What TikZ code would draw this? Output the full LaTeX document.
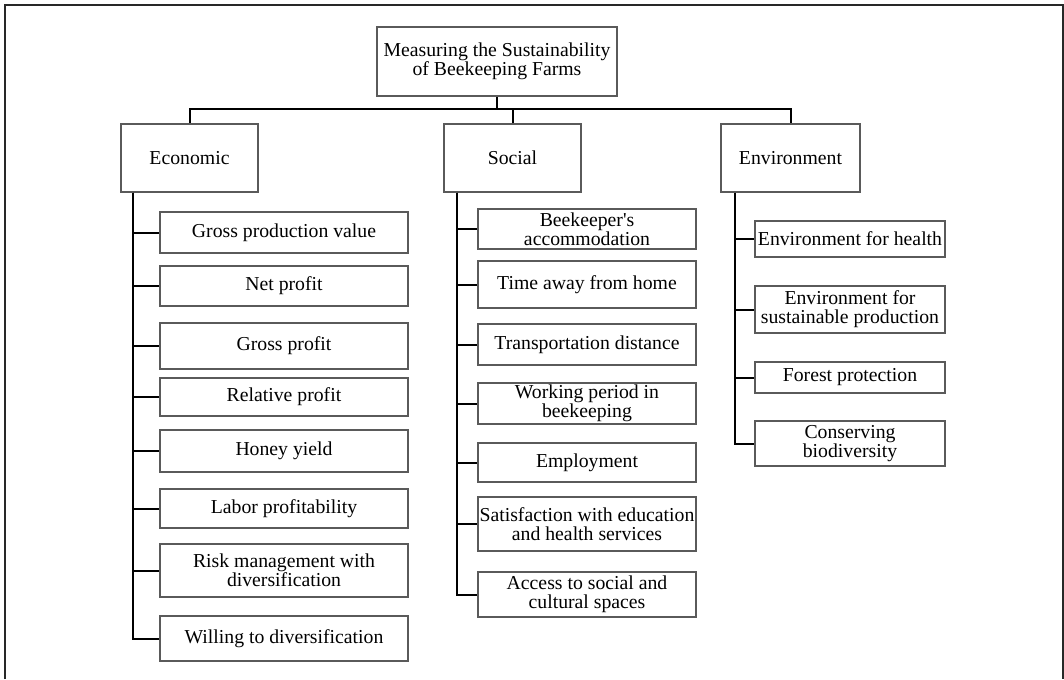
\documentclass[tikz,border=0pt]{standalone}
\usepackage{fontspec}
\setmainfont{Liberation Serif}
\usepackage{tikz}
\usetikzlibrary{calc,positioning}
\definecolor{BoxGray}{RGB}{90,90,90}
\definecolor{FrameDark}{RGB}{40,40,40}

\begin{document}
\begin{tikzpicture}[x=0.75pt,y=-0.75pt,
    box/.style={draw=BoxGray,line width=1.25pt,align=center,inner sep=0pt,
      font=\fontsize{14.8}{14.3}\selectfont},
    link/.style={black,line width=1.5pt}]
  \useasboundingbox (0,0) rectangle (1064,679);
  \draw[FrameDark,line width=1.2pt] (5,679) |- (1063,5) -- (1063,679);
  \node[box,minimum width=240*0.75pt,minimum height=69*0.75pt] (root) at (497,61.5)
    {Measuring the Sustainability\\of Beekeeping Farms};
  \node[box,minimum width=137*0.75pt,minimum height=68*0.75pt] (eco) at (189.5,158) {Economic};
  \node[box,minimum width=137*0.75pt,minimum height=68*0.75pt] (soc) at (512.5,158) {Social};
  \node[box,minimum width=139*0.75pt,minimum height=68*0.75pt] (env) at (790.5,158) {Environment};
  \draw[link] (root.south) -- ++(0,12) coordinate (bus);
  \draw[link] (eco.north) |- (bus) -| (env.north);
  \draw[link] (soc.north) -- (soc.north |- bus);
  % economic
  \foreach \n/\y/\h/\t in {e1/232.5/41/{Gross production value},e2/286/40/{Net profit},
      e3/346/46/{Gross profit},e4/397/38/{Relative profit},e5/451/42/{Honey yield},
      e6/508.5/39/{Labor profitability},e7/570.5/53/{Risk management with\\diversification},
      e8/638.5/45/{Willing to diversification}}{
    \node[box,minimum width=248*0.75pt,minimum height=\h*0.75pt] (\n) at (284,\y) {\t};
    \draw[link] ($(eco.south west)+(13,0)$) |- (\n.west);
  }
  % social
  \foreach \n/\y/\h/\t in {s1/229/40/{Beekeeper\textquotesingle s\\accommodation},
      s2/284.5/47/{Time away from home},s3/344.5/41/{Transportation distance},
      s4/403.5/41/{Working period in\\beekeeping},s5/462.5/39/{Employment},
      s6/524/54/{Satisfaction with education\\and health services},
      s7/594.5/45/{Access to social and\\cultural spaces}}{
    \node[box,minimum width=218*0.75pt,minimum height=\h*0.75pt] (\n) at (587,\y) {\t};
    \draw[link] ($(soc.south west)+(14,0)$) |- (\n.west);
  }
  % environment
  \foreach \n/\y/\h/\t in {v1/239/36/{Environment for health},
      v2/309.5/47/{Environment for\\sustainable production},
      v3/377.5/31/{Forest protection},v4/443.5/45/{Conserving\\biodiversity}}{
    \node[box,minimum width=190*0.75pt,minimum height=\h*0.75pt] (\n) at (850,\y) {\t};
    \draw[link] ($(env.south west)+(15,0)$) |- (\n.west);
  }
\end{tikzpicture}
\end{document}
